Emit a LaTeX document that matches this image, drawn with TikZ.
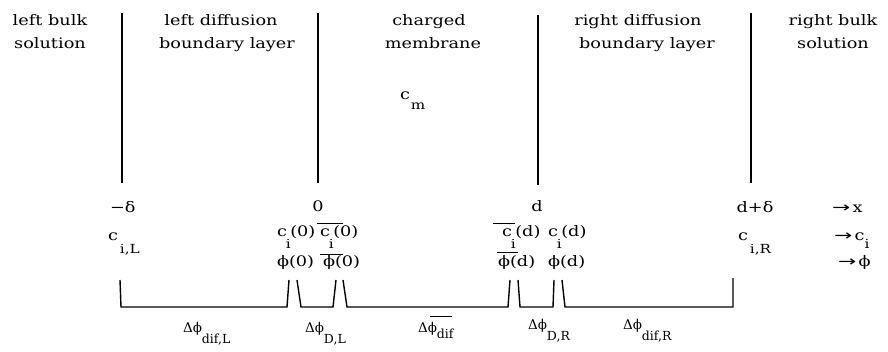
\documentclass[tikz,border=0pt]{standalone}
\usepackage{fontspec}
\usepackage{graphicx}
\setmainfont{DejaVu Serif}[FakeStretch=1.22]
\newfontfamily\plainf{DejaVu Serif}
\newfontfamily\symf{DejaVu Sans}
\newcommand\sz[1]{\fontsize{#1}{#1}\selectfont}
\newcommand\sbx[2][12pt]{\raisebox{-#1}{\sz{12.5}#2}}
\newcommand\sbi{\kern-1pt\raisebox{-12pt}{\sz{12.5}i}\kern-0.5pt}
\newcommand\ovr[3]{\rlap{\hspace*{#1}\raisebox{#2}{\rule{#3}{0.7pt}}}}
\newcommand\ar{{\symf\scalebox{1.5}[1]{→}}\,}
\begin{document}
\begin{tikzpicture}[x=1pt,y=-1pt,
  every node/.style={inner sep=0pt, outer sep=0pt, font=\sz{14.5}},
  lbl/.style={anchor=base west},
  ctr/.style={anchor=base},
  dphi/.style={anchor=base west, font=\plainf\sz{13.5}},
  wall/.style={line width=1.3pt},
  brk/.style={line width=1.4pt, line join=miter}]
\useasboundingbox (0,0) rectangle (888,351);
% headers
\node[ctr] (h1a) at (50,25) {left bulk};
\node[ctr] (h1b) at (50,48) {solution};
\node[ctr] (h2a) at (221,25) {left diffusion};
\node[ctr] (h2b) at (227,48) {boundary layer};
\node[ctr] (h3a) at (429,25) {charged};
\node[ctr] (h3b) at (433,48) {membrane};
\node[lbl] (cm) at (400,99) {c\kern1pt\sbx[10pt]{m}};
\node[ctr] (h4a) at (638,25) {right diffusion};
\node[ctr] (h4b) at (647,48) {boundary layer};
\node[ctr] (h5a) at (833,25) {right bulk};
\node[ctr] (h5b) at (833,48) {solution};
% walls
\coordinate (w1t) at (122,13); \coordinate (w1b) at (122,183);
\coordinate (w2t) at (318,13); \coordinate (w2b) at (318,183);
\coordinate (w3t) at (538,15); \coordinate (w3b) at (538,185);
\coordinate (w4t) at (751,13); \coordinate (w4b) at (751,183);
\draw[wall] (w1t) -- (w1b);
\draw[wall] (w2t) -- (w2b);
\draw[wall] (w3t) -- (w3b);
\draw[wall] (w4t) -- (w4b);
% positions
\node[lbl] (xl) at (110,212) {−δ};
\node[ctr] (x0) at (318,211) {0};
\node[ctr] (xd) at (537,211) {d};
\node[ctr] (xdd) at (755,212) {d+δ};
\node[lbl] (ax) at (832,212) {\ar x};
% concentrations
\node[lbl] (ciL) at (108,240) {c\kern2pt\sbx[13pt]{i,L}};
\node[lbl] (ci0) at (277,236) {c\sbi(0)};
\node[lbl] (cb0) at (320,236) {\ovr{-3pt}{12pt}{26pt}c\sbi(0)};
\node[lbl] (cbd) at (502,236) {\ovr{-9pt}{12pt}{22pt}c\sbi(d)};
\node[lbl] (cid) at (548,236) {c\sbi(d)};
\node[lbl] (ciR) at (738,240) {c\kern2pt\sbx[13pt]{i,R}};
\node[lbl] (ac) at (834,240) {\ar c\sbx[8pt]{i}};
% potentials
\node[lbl] (p0) at (277,266) {ϕ(0)};
\node[lbl] (pb0) at (323,266) {\ovr{-3pt}{11pt}{23pt}ϕ(0)};
\node[lbl] (pbd) at (498,266) {\ovr{-1pt}{13pt}{21pt}ϕ(d)};
\node[lbl] (pd) at (548,266) {ϕ(d)};
\node[lbl] (ap) at (838,266) {\ar ϕ};
% bracket
\coordinate (b0) at (120,280);
\draw[brk] (b0) -- (121,307) -- (287,307) -- (289,280);
\draw[brk] (297,280) -- (301,307) -- (333,307) -- (336,280);
\draw[brk] (343,280) -- (347,307) -- (508,307) -- (510,280);
\draw[brk] (518,280) -- (520,307) -- (553,307) -- (554,280);
\draw[brk] (562,280) -- (565,307) -- (733,307) -- (733,278);
% potential differences
\node[dphi] (d1) at (183,332) {Δϕ\sbx[11pt]{dif,L}};
\node[dphi] (d2) at (305,332) {Δϕ\sbx[11pt]{D,L}};
\node[dphi] (d3) at (418,332) {\ovr{12pt}{15pt}{22pt}Δϕ\sbx[6pt]{dif}};
\node[dphi] (d4) at (528,329) {Δϕ\sbx[11pt]{D,R}};
\node[dphi] (d5) at (623,329) {Δϕ\sbx[11pt]{dif,R}};
\end{tikzpicture}
\end{document}
